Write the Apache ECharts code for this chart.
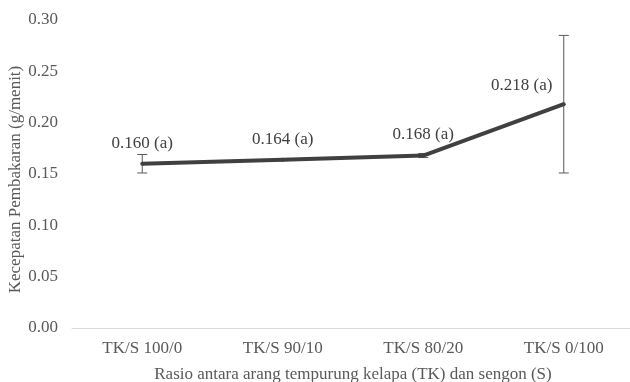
<!DOCTYPE html>
<html>
<head>
<meta charset="utf-8">
<script src="https://cdn.jsdelivr.net/npm/echarts@6/dist/echarts.min.js"></script>
<style>
  html, body { margin: 0; padding: 0; background: #fff; }
  #chart { width: 630px; height: 382px; }
</style>
</head>
<body>
<div id="chart"></div>
<script>
// data
const categories = ['TK/S 100/0', 'TK/S 90/10', 'TK/S 80/20', 'TK/S 0/100']
const rates = [0.160, 0.164, 0.168, 0.218]
const errLow = [0.151, 0.163, 0.166, 0.151]
const errHigh = [0.169, 0.165, 0.170, 0.285]
const letters = ['a', 'a', 'a', 'a']
const yTicks = [0, 0.05, 0.10, 0.15, 0.20, 0.25, 0.30]

const font = 'Liberation Serif, Times New Roman, serif'
const chart = echarts.init(document.getElementById('chart'))

// error bar drawn as a custom series
function renderErrorBar(params, api) {
  const x = api.value(0)
  const lo = api.coord([x, api.value(1)])
  const hi = api.coord([x, api.value(2)])
  const cap = 5
  const style = { stroke: '#595959', lineWidth: 1 }
  return {
    type: 'group',
    children: [
      { type: 'line', shape: { x1: hi[0], y1: hi[1], x2: lo[0], y2: lo[1] }, style },
      { type: 'line', shape: { x1: hi[0] - cap, y1: hi[1], x2: hi[0] + cap, y2: hi[1] }, style },
      { type: 'line', shape: { x1: lo[0] - cap, y1: lo[1], x2: lo[0] + cap, y2: lo[1] }, style },
    ],
  }
}

const lineData = rates.map((v, i) => {
  const item = { value: v }
  if (i === rates.length - 1) {
    item.label = { offset: [-42, 2] }
  }
  return item
})

const option = {
  animation: false,
  backgroundColor: '#ffffff',
  textStyle: { fontFamily: font },
  grid: { left: 72, right: -4, top: 20, bottom: 54, outerBoundsMode: 'none' },
  xAxis: {
    type: 'category',
    data: categories,
    axisTick: { show: false },
    axisLine: { lineStyle: { color: '#d9d9d9', width: 1 } },
    axisLabel: { color: '#595959', fontSize: 17, fontFamily: font, margin: 12 },
    name: 'Rasio antara arang tempurung kelapa (TK) dan sengon (S)',
    nameLocation: 'middle',
    nameGap: 38,
    nameMoveOverlap: false,
    nameTextStyle: { color: '#595959', fontSize: 17, fontFamily: font },
  },
  yAxis: {
    type: 'value',
    min: yTicks[0],
    max: yTicks[yTicks.length - 1],
    interval: 0.05,
    splitLine: { show: false },
    axisLine: { show: false },
    axisTick: { show: false },
    axisLabel: {
      color: '#595959', fontSize: 17, fontFamily: font, margin: 14,
      formatter: v => v.toFixed(2),
    },
    name: 'Kecepatan Pembakaran (g/menit)',
    nameLocation: 'middle',
    nameGap: 48,
    nameMoveOverlap: false,
    nameTextStyle: { color: '#595959', fontSize: 17, fontFamily: font, padding: [0, 11, 0, 0] },
  },
  series: [
    {
      type: 'line',
      data: lineData,
      symbol: 'circle',
      symbolSize: 4,
      showSymbol: true,
      itemStyle: { color: '#404040' },
      lineStyle: { color: '#404040', width: 4 },
      z: 3,
      label: {
        show: true,
        position: 'top',
        distance: 10,
        color: '#404040',
        fontSize: 17,
        fontFamily: font,
        formatter: p => rates[p.dataIndex].toFixed(3) + ' (' + letters[p.dataIndex] + ')',
      },
    },
    {
      type: 'custom',
      renderItem: renderErrorBar,
      data: categories.map((c, i) => [i, errLow[i], errHigh[i]]),
      encode: { x: 0, y: [1, 2] },
      z: 2,
    },
  ],
}

chart.setOption(option)
</script>
</body>
</html>
